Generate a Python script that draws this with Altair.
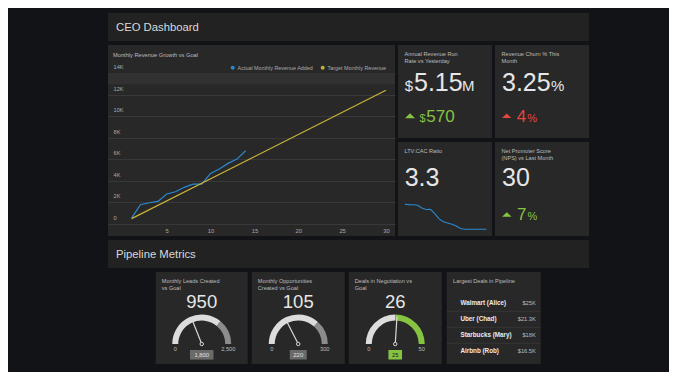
import math
import altair as alt
import pandas as pd

FONT = "Liberation Sans"
BG = "#121316"
BAR = "#222222"
PANEL = "#282828"
TXT = "#e6e6e6"
SUB = "#bdbdbd"
AXIS = "#a8a8a8"
BLUE = "#2a8ad0"
YELLOW = "#c9b23a"
GREEN = "#86c340"
RED = "#e5463e"
ARC_LOW = "#dcdcdc"
ARC_HIGH = "#8c8c8c"

# ---------------- data ----------------
section_titles = ["CEO Dashboard", "Pipeline Metrics"]

revenue_title = "Monthly Revenue Growth vs Goal"
series_names = ["Actual Monthly Revenue Added", "Target Monthly Revenue"]
actual_day = [1, 2, 3, 4, 5, 6, 7, 8, 9, 10, 11, 12, 13, 14]
actual_revenue = [550, 1790, 1970, 2100, 2780, 2990, 3400, 3700, 3700, 4690, 5090, 5620, 6020, 6790]
target_day = [1, 30]
target_revenue = [500, 12400]
y_tick_values = [0, 2000, 4000, 6000, 8000, 10000, 12000, 14000]
x_tick_values = [5, 10, 15, 20, 25, 30]
highlight_band = [12950, 14000]

kpi_titles = [
    "Annual Revenue Run\nRate vs Yesterday",
    "Revenue Churn % This\nMonth",
    "LTV:CAC Ratio",
    "Net Promoter Score\n(NPS) vs Last Month",
]
run_rate = ["$", "5.15", "M"]
run_rate_delta = ["$", "570"]
churn = ["3.25", "%"]
churn_delta = ["4", "%"]
ltv_cac = "3.3"
ltv_cac_history = [5.0, 4.98, 4.97, 4.93, 4.75, 4.65, 4.66, 4.37, 4.01, 3.81,
                   3.73, 3.64, 3.52, 3.35, 3.3, 3.3, 3.3, 3.3, 3.3, 3.3]
nps = "30"
nps_delta = ["7", "%"]

gauge_titles = ["Monthly Leads Created\nvs Goal", "Monthly Opportunities\nCreated vs Goal",
                "Deals in Negotiation vs\nGoal"]
gauge_values = [950, 105, 26]
gauge_goals = [1800, 220, 25]
gauge_min = [0, 0, 0]
gauge_max = [2500, 300, 50]

deals_title = "Largest Deals in Pipeline"
deal_names = ["Walmart (Alice)", "Uber (Chad)", "Starbucks (Mary)", "Airbnb (Rob)"]
deal_amounts = ["$25K", "$21.3K", "$18K", "$16.5K"]


# ---------------- helpers ----------------
def panel(fill=PANEL):
    return alt.ViewBackground(fill=fill, strokeWidth=0)


def txt(s, x, y, size, color, align="left", baseline="alphabetic", weight="normal", lh=6.7):
    return alt.Chart(pd.DataFrame({"t": [s]})).mark_text(
        align=align, baseline=baseline, font=FONT, fontSize=size, fontWeight=weight,
        color=color, lineBreak="\n", lineHeight=lh,
    ).encode(text="t:N", x=alt.value(x), y=alt.value(y))


def tri(x, y, color, size=100):
    return alt.Chart(pd.DataFrame({"k": [0]})).mark_point(
        shape="M-1,0.5L0,-0.5L1,0.5Z", filled=True, color=color, size=size, opacity=1
    ).encode(x=alt.value(x), y=alt.value(y))


def header(title):
    return txt(title, 8, 14.5, 11.3, "#d9d9d9", baseline="middle").properties(
        width=481, height=28, view=panel(BAR))


# ---------------- revenue line chart ----------------
W1, H1 = 287, 191
xs = alt.Scale(domain=[-1.69, 31.03], nice=False, zero=False)
ys = alt.Scale(domain=[-1113, 16596], nice=False, zero=False)

y_axis = alt.Axis(
    values=y_tick_values, grid=True, gridColor="#383838", gridWidth=1,
    domain=False, ticks=False, tickSize=0, labelAlign="left", labelPadding=-5,
    labelOffset=-6.5, labelBaseline="middle", labelFont=FONT, labelFontSize=5.7,
    labelColor=AXIS, labelFlush=False, labelOverlap=False,
    labelExpr="datum.value == 0 ? '0' : (datum.value / 1000) + 'K'", title=None)
x_axis = alt.Axis(
    values=x_tick_values, grid=False, domain=False, ticks=False, tickSize=0,
    labelPadding=-5.5, labelBaseline="middle", labelFont=FONT, labelFontSize=5.8,
    labelColor=AXIS, labelFlush=False, labelOverlap=False, title=None)

line_df = pd.DataFrame({
    "day": actual_day + target_day,
    "value": actual_revenue + target_revenue,
    "series": [series_names[0]] * len(actual_day) + [series_names[1]] * len(target_day),
})
band_df = pd.DataFrame({"value": [highlight_band[1]], "value2": [highlight_band[0]]})

band_layer = alt.Chart(band_df).mark_rect(color="#313131").encode(
    y=alt.Y("value:Q", scale=ys, axis=y_axis), y2="value2:Q",
    x=alt.value(0), x2=alt.value(W1))

lines = alt.Chart(line_df).mark_line(strokeWidth=1.2).encode(
    x=alt.X("day:Q", scale=xs, axis=x_axis),
    y=alt.Y("value:Q", scale=ys, axis=y_axis),
    color=alt.Color("series:N", scale=alt.Scale(domain=series_names, range=[BLUE, YELLOW]),
                    legend=alt.Legend(orient="none", legendX=122, legendY=20,
                                      direction="horizontal", title=None,
                                      symbolType="circle", symbolSize=3,
                                      symbolStrokeWidth=2.2, labelFont=FONT,
                                      labelFontSize=5.4, labelColor=AXIS,
                                      labelOffset=2.2, columnPadding=3, padding=0)),
    order=alt.Order("day:Q"),
)

line_panel = alt.layer(
    band_layer, lines,
    txt(revenue_title, 5, 11.5, 5.7, SUB),
).properties(width=W1, height=H1, view=panel())


# ---------------- KPI tiles ----------------
def kpi_tile(layers, h):
    return alt.layer(*layers).properties(width=94, height=h, view=panel())


t1 = kpi_tile([
    txt(kpi_titles[0], 6.5, 11, 5.6, SUB),
    txt(run_rate[0], 6.7, 45.7, 15, TXT),
    txt(run_rate[1], 16, 45.7, 25, TXT),
    txt(run_rate[2], 64, 45.7, 15, TXT),
    tri(12, 70.8, GREEN, 100),
    txt(run_rate_delta[0], 21.5, 77.3, 11, GREEN),
    txt(run_rate_delta[1], 28.3, 77.3, 17, GREEN),
], 93)

t2 = kpi_tile([
    txt(kpi_titles[1], 6.5, 11, 5.6, SUB),
    txt(churn[0], 7, 45.7, 25, TXT),
    txt(churn[1], 56, 45.7, 15, TXT),
    tri(11.7, 70.8, RED, 85),
    txt(churn_delta[0], 21.7, 77.3, 17, RED),
    txt(churn_delta[1], 32.2, 77.3, 11, RED),
], 93)

spark_df = pd.DataFrame({"i": list(range(len(ltv_cac_history))), "v": ltv_cac_history})
spark = alt.Chart(spark_df).mark_line(color=BLUE, strokeWidth=1.1).encode(
    x=alt.X("i:Q", axis=None, scale=alt.Scale(range=[6.7, 88.3], nice=False, zero=False)),
    y=alt.Y("v:Q", axis=None, scale=alt.Scale(domain=[3.3, 5.0], range=[87.3, 62.3],
                                              nice=False, zero=False)),
)

t3 = kpi_tile([
    txt(kpi_titles[2], 6.5, 11, 5.6, SUB),
    txt(ltv_cac, 6.7, 43.7, 25, TXT),
    spark,
], 94)

t4 = kpi_tile([
    txt(kpi_titles[3], 6.5, 11, 5.6, SUB),
    txt(nps, 7, 43.7, 25, TXT),
    tri(11.8, 72.5, GREEN, 90),
    txt(nps_delta[0], 22, 77.7, 17, GREEN),
    txt(nps_delta[1], 32.5, 77.7, 11, GREEN),
], 94)

right_block = alt.vconcat(
    alt.hconcat(t1, t2, spacing=3),
    alt.hconcat(t3, t4, spacing=3),
    spacing=4,
)

row1 = alt.hconcat(line_panel, right_block, spacing=3).resolve_scale(
    color="independent").resolve_legend(color="independent")


# ---------------- gauges ----------------
def gauge(i, w):
    cx, cy = w / 2, 72
    vmin, vmax, goal, val = gauge_min[i], gauge_max[i], gauge_goals[i], gauge_values[i]
    met = val >= goal
    hi_color = GREEN if met else ARC_HIGH
    sc = alt.Scale(domain=[vmin, vmax], range=[-math.pi / 2, math.pi / 2])
    low = alt.Chart(pd.DataFrame({"a": [vmin], "b": [goal]})).mark_arc(
        innerRadius=23.5, outerRadius=29.5, color=ARC_LOW).encode(
        theta=alt.Theta("a:Q", scale=sc), theta2="b:Q", x=alt.value(cx), y=alt.value(cy))
    high = alt.Chart(pd.DataFrame({"a": [goal], "b": [vmax]})).mark_arc(
        innerRadius=23.5, outerRadius=29.5, color=hi_color).encode(
        theta=alt.Theta("a:Q", scale=sc), theta2="b:Q", x=alt.value(cx), y=alt.value(cy))
    needle = alt.Chart(pd.DataFrame({"v": [val]})).mark_arc(
        innerRadius=0, outerRadius=27.5, stroke="#d8d8d8", strokeWidth=1.2,
        fillOpacity=0, strokeJoin="round").encode(
        theta=alt.Theta("v:Q", scale=sc), theta2="v:Q", x=alt.value(cx), y=alt.value(cy))
    pivot = alt.Chart(pd.DataFrame({"k": [0]})).mark_point(
        shape="circle", size=12, filled=True, fill=PANEL, stroke="#d8d8d8",
        strokeWidth=1, opacity=1).encode(x=alt.value(cx), y=alt.value(cy))
    goal_text = f"{goal:,}"
    bw = len(goal_text) * 3.3 + 7
    box = alt.Chart(pd.DataFrame({"k": [0]})).mark_rect(
        color=GREEN if met else "#6a6a6a").encode(
        x=alt.value(cx - bw / 2), x2=alt.value(cx + bw / 2),
        y=alt.value(78.0), y2=alt.value(87.6))

    def num(field_val, x, y, size, color):
        return alt.Chart(pd.DataFrame({"v": [field_val]})).mark_text(
            align="center", baseline="alphabetic", font=FONT, fontSize=size,
            color=color).encode(
            text=alt.Text("v:Q", format=","), x=alt.value(x), y=alt.value(y))

    return alt.layer(
        txt(gauge_titles[i], 6, 11, 5.6, SUB),
        num(val, cx, 36, 18.5, TXT),
        low, high, needle, pivot,
        num(vmin, cx - 26.5, 79, 5.7, SUB),
        num(vmax, cx + 26.5, 79, 5.7, SUB),
        box,
        num(goal, cx, 85.2, 5.9, "#222222" if met else "#e0e0e0"),
    ).properties(width=w, height=92, view=panel())


g1 = gauge(0, 92)
g2 = gauge(1, 93)
g3 = gauge(2, 93)

# ---------------- deals table ----------------
ysc = alt.Scale(type="point", domain=deal_names, range=[31.3, 79.3], padding=0)
deals_df = pd.DataFrame({"name": deal_names, "amount": deal_amounts})
names = alt.Chart(deals_df).mark_text(
    align="left", baseline="middle", font=FONT, fontSize=6.3, fontWeight="bold",
    color="#ececec").encode(
    text="name:N", y=alt.Y("name:N", scale=ysc, axis=None), x=alt.value(13.7))
amounts = alt.Chart(deals_df).mark_text(
    align="right", baseline="middle", font=FONT, fontSize=5.7, color=SUB).encode(
    text="amount:N", y=alt.Y("name:N", scale=ysc, axis=None), x=alt.value(89))
seps = alt.Chart(pd.DataFrame({"name": deal_names[1:]})).mark_rule(
    color="#353535", strokeWidth=1, yOffset=-8).encode(
    y=alt.Y("name:N", scale=ysc, axis=None), x=alt.value(0), x2=alt.value(94))

table = alt.layer(
    txt(deals_title, 6.3, 11, 5.6, SUB), seps, names, amounts,
).properties(width=94, height=92, view=panel())

row2 = alt.hconcat(g1, g2, g3, table, spacing=4).resolve_scale(
    theta="independent", y="independent", x="independent")

chart = alt.vconcat(
    header(section_titles[0]), row1, header(section_titles[1]), row2,
    spacing=4, center=True,
).resolve_scale(color="independent", theta="independent").properties(
    padding={"left": 100, "top": 5, "right": 80, "bottom": 8},
    background=BG,
).configure_view(strokeWidth=0)

chart.save("out.html", embed_options={"renderer": "svg", "actions": False})
